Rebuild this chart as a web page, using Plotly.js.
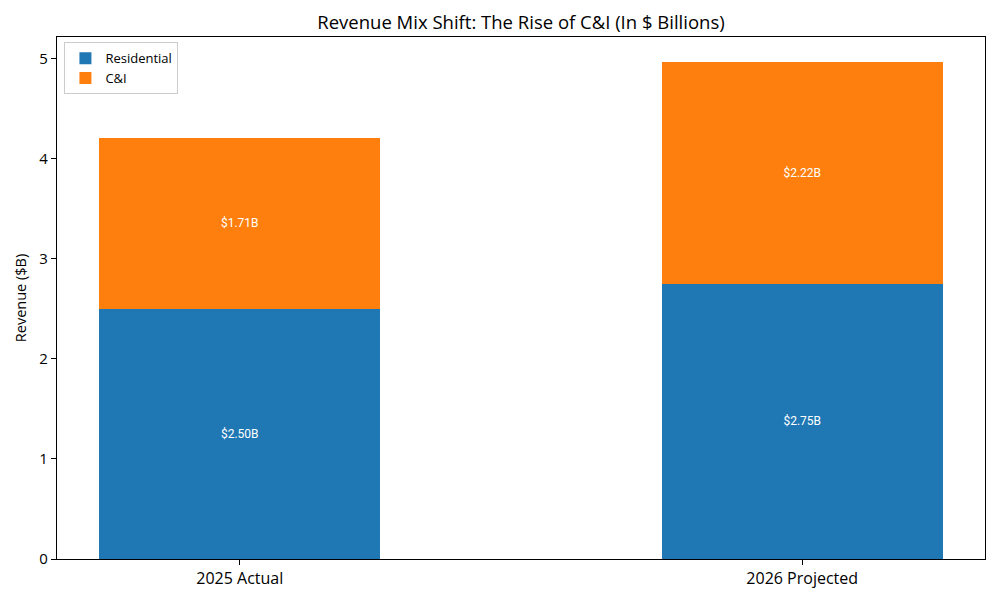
<!DOCTYPE html>
<html>
<head>
<meta charset="utf-8">
<script src="https://cdn.plot.ly/plotly-3.0.1.min.js"></script>
<style>html,body{margin:0;padding:0;background:#fff;}#chart{width:1000px;height:600px;}</style>
</head>
<body>
<div id="chart"></div>
<script>
const categories = ["2025 Actual", "2026 Projected"];
const residential = [2.50, 2.75];
const cni = [1.71, 2.22];
const seriesNames = ["Residential", "C&I"];
const labelText = v => "$" + v.toFixed(2) + "B";

const FONT = "'Open Sans', Roboto, sans-serif";
const LFONT = "Roboto, sans-serif";
const traces = [
  {
    type: "bar", name: seriesNames[0], x: [0, 1], y: residential,
    width: 0.5, marker: {color: "#1f77b4", line: {width: 0}},
    text: residential.map(labelText), textposition: "inside", insidetextanchor: "middle",
    textfont: {color: "white", size: 12, family: LFONT}, hoverinfo: "skip"
  },
  {
    type: "bar", name: seriesNames[1], x: [0, 1], y: cni,
    width: 0.5, marker: {color: "#ff7f0e", line: {width: 0}},
    text: cni.map(labelText), textposition: "inside", insidetextanchor: "middle",
    textfont: {color: "white", size: 12, family: LFONT}, hoverinfo: "skip"
  }
];
const layout = {
  width: 1000, height: 600,
  barmode: "stack",
  paper_bgcolor: "white", plot_bgcolor: "white",
  margin: {l: 57, r: 15, t: 37, b: 41},
  font: {family: FONT, color: "black"},
  title: {text: "Revenue Mix Shift: The Rise of C&I (In $ Billions)", x: 0.521, xanchor: "center", y: 0.962, yanchor: "middle", font: {size: 18.5, family: FONT, color: "black"}},
  xaxis: {
    range: [-0.325, 1.325], tickmode: "array", tickvals: [0, 1], ticktext: categories,
    showline: true, linecolor: "black", linewidth: 1.2, mirror: true,
    ticks: "outside", ticklen: 5, tickcolor: "black", showgrid: false, zeroline: false,
    tickfont: {size: 16, family: FONT}
  },
  yaxis: {
    range: [0, 5.2185], tickvals: [0, 1, 2, 3, 4, 5],
    showline: true, linecolor: "black", linewidth: 1.2, mirror: true,
    ticks: "outside", ticklen: 5, tickcolor: "black", showgrid: false, zeroline: false,
    tickfont: {size: 15, family: FONT},
    title: {text: "Revenue ($B)", font: {size: 14.5, family: FONT}, standoff: 9}
  },
  legend: {
    x: 0.008, y: 0.99, xanchor: "left", yanchor: "top",
    bgcolor: "rgba(255,255,255,0.8)", bordercolor: "#cccccc", borderwidth: 1,
    font: {size: 13, family: FONT}, traceorder: "normal", itemwidth: 30
  },
  showlegend: true
};
Plotly.newPlot("chart", traces, layout, {staticPlot: true, displayModeBar: false});
</script>
</body>
</html>
